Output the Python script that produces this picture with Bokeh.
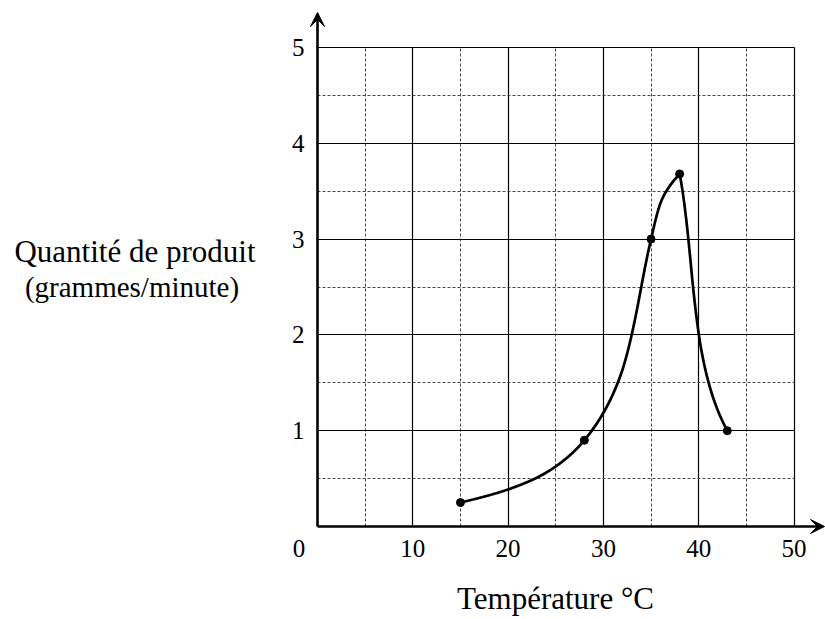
import numpy as np
from bokeh.plotting import figure
from bokeh.models import FixedTicker, Label, Arrow, VeeHead, Range1d, Grid
from bokeh.core.properties import value
from bokeh.embed import file_html
from bokeh.resources import INLINE

# ---------------- data ----------------
temperature = [15, 28, 35, 38, 43]
quantite = [0.25, 0.9, 3.0, 3.68, 1.0]

x_ticks = [10, 20, 30, 40, 50]
x_minor = [5, 15, 25, 35, 45]
y_ticks = [1, 2, 3, 4, 5]
y_minor = [0.5, 1.5, 2.5, 3.5, 4.5]
x_tick_labels = ["10", "20", "30", "40", "50"]
y_tick_labels = ["1", "2", "3", "4", "5"]
origin_label = "0"

y_title = "Quantité de produit"
y_subtitle = "(grammes/minute)"
x_title = "Température °C"

# curve shape (screen slopes of the drawn curve at each end of each segment)
seg_out_slope = [0.23, 1.2, 4.2, -5.0]
seg_in_slope = [1.2, 4.2, 1.05, -1.8]
seg_handle = [0.36, 0.36, 0.42, 0.3]

# ---------------- layout ----------------
W, H = 825, 619
KX, KY = 9.53, 95.8          # px per data unit
OX, OY = 317, 526            # canvas position of data (0, 0)
x_range = Range1d(-OX / KX, (W - OX) / KX)
y_range = Range1d(-(H - OY) / KY, OY / KY)

p = figure(width=W, height=H, x_range=x_range, y_range=y_range,
           output_backend="svg", toolbar_location=None,
           x_axis_location=None, y_axis_location=None,
           min_border=0)
p.outline_line_color = None
p.background_fill_color = "white"
p.border_fill_color = "white"
p.xgrid.visible = False
p.ygrid.visible = False

FONT = "Liberation Serif"

# grids restricted to the 0..50 x 0..5 box
for dim, tk, mn, cb in ((0, x_ticks, x_minor, (0, 5)), (1, y_ticks, y_minor, (0, 50))):
    g = Grid(dimension=dim, ticker=FixedTicker(ticks=tk, minor_ticks=mn))
    g.grid_line_color = "black"
    g.grid_line_width = 1.2
    g.minor_grid_line_color = "#444444"
    g.minor_grid_line_width = 1
    g.minor_grid_line_dash = "3 2"
    g.cross_bounds = cb
    p.add_layout(g)

# curve as cubic Bezier segments, built in screen space
xs = np.array(temperature, dtype=float) * KX
ys = np.array(quantite, dtype=float) * KY
bx0, by0, bx1, by1, cx0, cy0, cx1, cy1 = ([] for _ in range(8))
for i in range(len(temperature) - 1):
    P0 = np.array([xs[i], ys[i]])
    P1 = np.array([xs[i + 1], ys[i + 1]])
    h = seg_handle[i] * np.hypot(*(P1 - P0))
    d0 = np.array([1.0, seg_out_slope[i]]); d0 /= np.hypot(*d0)
    d1 = np.array([1.0, seg_in_slope[i]]); d1 /= np.hypot(*d1)
    C0 = P0 + h * d0
    C1 = P1 - h * d1
    bx0.append(P0[0] / KX); by0.append(P0[1] / KY)
    bx1.append(P1[0] / KX); by1.append(P1[1] / KY)
    cx0.append(C0[0] / KX); cy0.append(C0[1] / KY)
    cx1.append(C1[0] / KX); cy1.append(C1[1] / KY)

p.bezier(x0=bx0, y0=by0, x1=bx1, y1=by1, cx0=cx0, cy0=cy0, cx1=cx1, cy1=cy1,
         line_color="black", line_width=2.7)
p.scatter(temperature, quantite, size=8, color="black")

# axis arrows
x_tip = (W - 1 - OX) / KX
y_tip = (OY - 12) / KY
for xe, ye in ((x_tip, 0), (0, y_tip)):
    p.add_layout(Arrow(x_start=0, y_start=0, x_end=xe, y_end=ye, line_width=2.6,
                       line_color="black",
                       end=VeeHead(size=14, fill_color="black", line_color="black",
                                   line_width=1)))

# tick labels
p.text(x=x_ticks, y=[0] * len(x_ticks), text=x_tick_labels, y_offset=22,
       text_font=value(FONT), text_font_size="25px", text_align="center",
       text_baseline="middle", text_color="black")
p.text(x=[0] * len(y_ticks), y=y_ticks, text=y_tick_labels, x_offset=-13,
       text_font=value(FONT), text_font_size="25px", text_align="right",
       text_baseline="middle", text_color="black")
p.add_layout(Label(x=0, y=0, x_offset=-18.5, y_offset=-22, text=origin_label,
                   text_font=FONT, text_font_size="25px", text_align="center",
                   text_baseline="middle", text_color="black"))

# axis titles (vertical positions: visual centre of each line)
p.add_layout(Label(x=(134.5 - OX) / KX, y=(OY - 251) / KY, text=y_title,
                   text_font=FONT, text_font_size="31px", text_align="center",
                   text_baseline="middle", text_color="black"))
p.add_layout(Label(x=(131.5 - OX) / KX, y=(OY - 286) / KY, text=y_subtitle,
                   text_font=FONT, text_font_size="29px", text_align="center",
                   text_baseline="middle", text_color="black"))
p.add_layout(Label(x=(555 - OX) / KX, y=-(598 - OY) / KY, text=x_title,
                   text_font=FONT, text_font_size="31px", text_align="center",
                   text_baseline="middle", text_color="black"))

open("out.html", "w").write(file_html(p, INLINE))
